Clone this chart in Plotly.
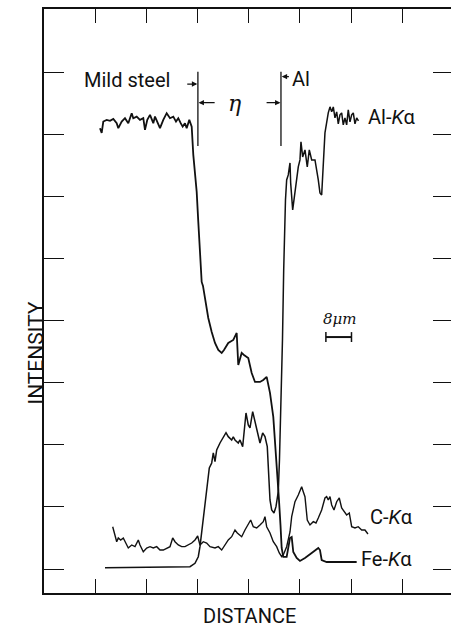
import plotly.graph_objects as go

# Distance in micrometres (tick every 16 um, scale bar = 8 um); intensity in arbitrary units
fe_x = [17.5, 18.03, 18.53, 19.59, 20.63, 21.66, 22.72, 23.22, 24.28, 25.31, 26.34, 27.41, 27.91, 28.97, 30.0, 31.03, 31.56, 32.28, 33.13, 34.16, 34.69, 35.72, 36.25, 37.28, 38.34, 39.38, 40.41, 41.25, 41.97, 42.72, 43.34, 44.06, 44.59, 45.41, 46.16,
        46.66, 47.72, 48.22, 48.75, 49.28, 49.69, 50.31, 51.34, 52.41, 53.44, 54.47, 55.53, 56.25, 57.59, 59.16, 60.22, 60.72, 61.78, 62.5, 63.84, 64.91, 65.94, 67.5, 68.53, 69.59, 70.63, 71.66, 72.19, 72.81, 73.44, 73.91, 74.28, 74.78,
        75.84, 76.88, 77.41, 77.91, 78.97, 80.0, 81.56, 83.66, 85.72, 86.25, 86.78, 88.34, 97.72]
fe_y = [71.08, 70.32, 72.15, 72.42, 72.26, 72.58, 71.89, 71.08, 72.15, 72.69, 71.89, 73.50, 72.69, 72.95, 72.42, 72.69, 70.81, 72.42, 73.23, 71.89, 72.95, 71.89, 71.08, 72.42, 73.50, 72.69, 72.95, 72.15, 72.69, 71.89, 71.34, 71.89, 71.08, 72.42, 71.34,
        66.77, 60.81, 55.97, 50.65, 46.29, 45.65, 43.71, 40.48, 38.23, 36.45, 35.32, 34.84, 35.32, 36.45, 36.94, 38.06, 32.90, 34.84, 34.52, 34.03, 31.61, 30.16, 30.16, 30.48, 30.97, 28.39, 24.52, 20.81, 15.97, 11.13, 7.10, 3.39, 1.94,
        1.94, 5.0, 5.16, 2.74, 1.77, 1.29, 1.77, 2.58, 3.39, 3.06, 1.45, 1.13, 1.13]

al_x = [19.06, 33.13, 45.63, 47.19, 48.22, 48.75, 49.78, 50.47, 51.09, 51.66, 52.41, 52.91, 53.44, 53.97, 55.0, 56.03, 56.88, 57.59, 58.66, 59.16,
        59.69, 60.72, 61.25, 62.09, 62.59, 63.13, 63.84, 64.38, 65.22, 65.94, 66.78, 67.5, 68.34, 69.06, 69.78, 70.63, 71.16, 71.88, 72.5, 73.22,
        73.59, 74.06, 74.53, 74.91, 75.22, 75.47, 75.84, 76.34, 76.88, 77.09, 77.72, 78.44, 79.47, 80.0, 80.31, 80.84, 81.56, 82.28, 82.91, 83.66,
        84.69, 85.72, 86.25, 86.78, 87.28, 87.81, 88.84, 89.38, 89.91, 90.41, 90.94, 91.47, 91.97, 92.5, 93.03, 93.53, 94.06, 94.59, 95.09, 95.63,
        96.16, 96.66, 97.19, 97.72, 98.28]
al_y = [0.21, 0.24, 0.37, 0.92, 1.98, 3.60, 7.90, 11.13, 13.55, 16.29, 17.10, 18.71, 17.31, 19.19, 20.32, 21.34, 21.98, 21.34, 20.81, 21.29,
        20.81, 20.32, 20.81, 19.73, 22.95, 25.16, 23.23, 22.74, 25.37, 23.71, 21.94, 20.32, 21.94, 21.34, 19.73, 11.13, 9.52, 9.03, 10.05, 12.47,
        17.58, 25.65, 36.94, 48.23, 56.29, 59.52, 62.74, 63.55, 65.48, 62.26, 57.90, 61.13, 64.84, 65.97, 68.87, 66.45, 67.58, 64.84, 67.58, 65.97,
        65.97, 62.74, 60.65, 60.32, 64.84, 70.32, 73.55, 74.52, 73.71, 74.52, 72.74, 73.71, 71.77, 73.23, 73.55, 71.61, 72.74, 71.61, 74.03, 72.10,
        73.23, 73.55, 71.77, 72.74, 72.26]

c_x = [21.47, 22.19, 22.72, 23.22, 23.97, 24.78, 25.63, 26.34, 27.41, 28.44, 29.47, 30.0, 31.03, 32.09, 33.13, 34.16, 35.22, 36.25, 37.28, 38.34,
       39.38, 40.22, 40.94, 41.97, 43.03, 44.06, 45.09, 46.16, 47.19, 48.03, 48.75, 49.78, 50.84, 51.88, 53.44, 54.47, 55.53, 56.56, 57.59, 58.66,
       59.69, 60.41, 61.78, 62.81, 63.84, 64.59, 65.41, 66.47, 67.5, 68.53, 69.06, 69.59, 70.63, 71.66, 72.72, 73.53, 74.28, 74.78, 75.84, 76.88,
       77.41, 78.44, 79.47, 80.22, 80.53, 81.03, 81.56, 82.28, 83.13, 84.16, 85.0, 85.72, 86.78, 87.81, 88.34, 88.84, 89.38, 89.91, 90.63, 91.47,
       92.28, 93.03, 93.75, 94.59, 95.41, 96.16, 97.19, 98.22, 99.28, 100.31, 101.25]
c_y = [6.82, 5.21, 4.40, 5.0, 4.68, 5.0, 4.19, 3.39, 3.87, 3.60, 4.68, 3.87, 2.79, 3.39, 3.60, 3.39, 3.60, 3.06, 3.06, 3.39,
       3.60, 5.0, 4.40, 3.87, 3.60, 3.60, 3.87, 4.19, 4.68, 5.32, 3.87, 4.40, 4.19, 3.60, 3.39, 3.60, 3.06, 3.87, 4.68, 5.21,
       6.29, 5.81, 5.21, 6.29, 7.10, 7.90, 6.82, 6.61, 7.10, 7.63, 8.44, 6.82, 5.81, 4.40, 3.60, 2.58, 1.98, 2.26, 3.60, 5.97,
       8.44, 10.85, 11.94, 12.74, 13.27, 12.47, 11.66, 7.90, 7.10, 7.63, 7.42, 8.23, 9.52, 11.45, 11.66, 11.13, 11.66, 10.32, 9.52, 10.85,
       11.45, 9.84, 9.24, 8.71, 9.03, 6.82, 6.61, 6.82, 6.29, 6.29, 5.65]

x_ticks = [16, 32, 48, 64, 80, 96, 112]
y_ticks = [0, 10, 20, 30, 40, 50, 60, 70, 80]

FONT = "Roboto"
INK = "#111111"

fig = go.Figure()
fig.add_trace(go.Scatter(x=fe_x, y=fe_y, mode="lines", name="Fe-Kα",
                         line=dict(color=INK, width=1.8), hoverinfo="skip"))
fig.add_trace(go.Scatter(x=al_x, y=al_y, mode="lines", name="Al-Kα",
                         line=dict(color=INK, width=1.5), hoverinfo="skip"))
fig.add_trace(go.Scatter(x=c_x, y=c_y, mode="lines", name="C-Kα",
                         line=dict(color=INK, width=1.4), hoverinfo="skip"))
# empty trace to host the right-hand tick axis
fig.add_trace(go.Scatter(x=[], y=[], yaxis="y2", showlegend=False, hoverinfo="skip"))

def arrow(x_head, x_tail, y):
    return dict(x=x_head, y=y, ax=x_tail, ay=y, xref="x", yref="y", axref="x", ayref="y",
                text="", showarrow=True, arrowhead=2, arrowsize=0.9, arrowwidth=1.2,
                arrowcolor=INK, standoff=0, startstandoff=0)

LBL = dict(family=FONT, size=20, color=INK)

annotations = [
    dict(x=40.0, y=78.9, text="Mild steel", xanchor="right", yanchor="middle", showarrow=False, font=LBL),
    arrow(47.9, 44.3, 78.2),
    arrow(48.3, 53.8, 75.2),
    arrow(73.9, 69.1, 75.2),
    dict(x=59.4, y=75.0, text="<i>η</i>", showarrow=False,
         font=dict(family="DejaVu Serif", size=22, color=INK)),
    arrow(74.3, 77.0, 79.4),
    dict(x=76.9, y=79.0, text="Al", xanchor="left", yanchor="middle", showarrow=False, font=LBL),
    dict(x=100.6, y=72.9, text="Al-<i>K</i>α", xanchor="left", yanchor="middle", showarrow=False, font=LBL),
    dict(x=101.3, y=8.4, text="C-<i>K</i>α", xanchor="left", yanchor="middle", showarrow=False, font=LBL),
    dict(x=98.6, y=1.6, text="Fe-<i>K</i>α", xanchor="left", yanchor="middle", showarrow=False, font=LBL),
    dict(x=92.4, y=40.3, text="<i>8μm</i>", showarrow=False,
         font=dict(family="DejaVu Serif", size=15, color=INK)),
    dict(x=-0.054, y=0.41, xref="paper", yref="paper", text="INTENSITY", textangle=-90,
         showarrow=False, font=dict(family=FONT, size=21, color=INK)),
    dict(x=0.504, y=-0.040, xref="paper", yref="paper", text="DISTANCE", yanchor="middle",
         showarrow=False, font=dict(family=FONT, size=20, color=INK)),
]

shapes = [
    dict(type="line", xref="x", yref="y", x0=48.1, x1=48.1, y0=68.2, y1=80.2, line=dict(color=INK, width=1.3)),
    dict(type="line", xref="x", yref="y", x0=74.06, x1=74.06, y0=68.2, y1=80.2, line=dict(color=INK, width=1.3)),
    # 8 um scale bar
    dict(type="line", xref="x", yref="y", x0=88.1, x1=96.1, y0=37.4, y1=37.4, line=dict(color=INK, width=2)),
    dict(type="line", xref="x", yref="y", x0=88.1, x1=88.1, y0=36.6, y1=38.2, line=dict(color=INK, width=1.5)),
    dict(type="line", xref="x", yref="y", x0=96.1, x1=96.1, y0=36.6, y1=38.2, line=dict(color=INK, width=1.5)),
]

fig.update_layout(
    width=451, height=628,
    margin=dict(l=44, r=0, t=9, b=35),
    paper_bgcolor="white", plot_bgcolor="white",
    showlegend=False, hovermode=False,
    annotations=annotations, shapes=shapes,
    xaxis=dict(range=[0, 127.2], tickvals=x_ticks, ticks="inside", ticklen=14, tickwidth=1.3,
               tickcolor=INK, showticklabels=False, showgrid=False, zeroline=False,
               showline=True, linewidth=2.2, linecolor=INK, mirror="ticks"),
    yaxis=dict(range=[-3.87, 90.3], tickvals=y_ticks, ticks="inside", ticklen=20, tickwidth=1.3,
               tickcolor=INK, showticklabels=False, showgrid=False, zeroline=False,
               showline=True, linewidth=1.6, linecolor=INK),
    yaxis2=dict(range=[-3.87, 90.3], overlaying="y", side="right", tickvals=y_ticks, ticks="inside",
                ticklen=18, tickwidth=1.3, tickcolor=INK, showticklabels=False, showgrid=False,
                zeroline=False, showline=False),
)

fig.write_html("out.html", config={"displayModeBar": False},
               post_script="document.body.style.margin='0';document.body.style.overflow='hidden';")
